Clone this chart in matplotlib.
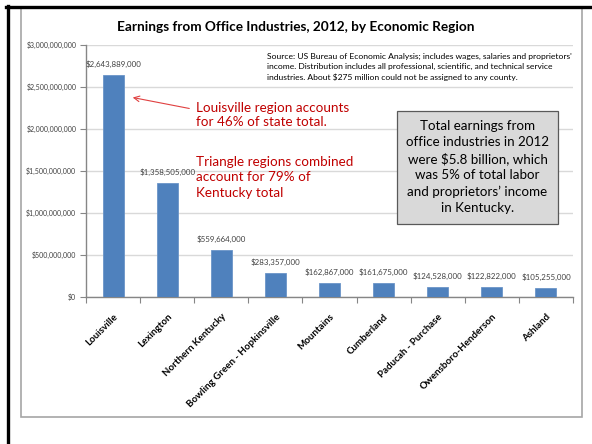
import numpy as np
import matplotlib
matplotlib.use("Agg")
import matplotlib.pyplot as plt
from matplotlib.lines import Line2D
from matplotlib.patches import Rectangle
from matplotlib.ticker import FuncFormatter, MultipleLocator, FixedLocator

plt.rcParams['font.family'] = ['Lato', 'DejaVu Sans']

# Datos
regions = ['Louisville', 'Lexington', 'Northern Kentucky',
           'Bowling Green - Hopkinsville', 'Mountains', 'Cumberland',
           'Paducah - Purchase', 'Owensboro-Henderson', 'Ashland']
earnings = [2643889000, 1358505000, 559664000, 283357000, 162867000,
            161675000, 124528000, 122822000, 105255000]

title = 'Earnings from Office Industries, 2012, by Economic Region'
source_note = ("Source: US Bureau of Economic Analysis; includes wages, salaries and proprietors'\n"
               "income. Distribution includes all professional, scientific, and technical service\n"
               "industries. About $275 million could not be assigned to any county.")
note_louisville = 'Louisville region accounts\nfor 46% of state total.'
note_triangle = 'Triangle regions combined\naccount for 79% of\nKentucky total'
note_box = ('Total earnings from\noffice industries in 2012\nwere $5.8 billion, which\n'
            'was 5% of total labor\nand proprietors\u2019 income\nin Kentucky.')

W, H = 592, 444
fig = plt.figure(figsize=(W / 100, H / 100), dpi=100)

def fx(px):
    return px / W

def fy(py):
    return 1 - py / H

# Marcos exteriores
fig.add_artist(Rectangle((fx(21), fy(417)), fx(582) - fx(21), fy(8) - fy(417),
                         transform=fig.transFigure, fill=False,
                         edgecolor='#a6a6a6', linewidth=1.2))
fig.add_artist(Line2D([fx(6), 1], [fy(7), fy(7)], color='black', linewidth=2.4))
fig.add_artist(Line2D([fx(7.5), fx(7.5)], [0, fy(6)], color='black', linewidth=2.4))

ax = fig.add_axes([fx(86), fy(297), fx(573) - fx(86), fy(45) - fy(297)])

x = np.arange(len(regions))
ax.bar(x, earnings, width=0.39, color='#4f81bd', edgecolor='#6b95c8',
       linewidth=0.6, zorder=3)

for xi, v in zip(x, earnings):
    ax.annotate('${:,.0f}'.format(v), (xi, v), xytext=(0, 5),
                textcoords='offset points', ha='center', va='bottom',
                fontsize=5.7, color='#404040')

ax.set_xlim(-0.5, len(regions) - 0.5)
ax.set_ylim(0, 3000000000)
ax.yaxis.set_major_locator(MultipleLocator(500000000))
ax.yaxis.set_major_formatter(FuncFormatter(lambda v, p: '${:,.0f}'.format(v)))
ax.grid(axis='y', color='#d9d9d9', linewidth=1, zorder=0)

ax.set_xticks(x)
ax.set_xticklabels(regions, rotation=45, ha='right', va='top',
                   rotation_mode='anchor', fontsize=7, fontweight='bold')
ax.tick_params(axis='x', which='major', length=0, pad=11)
ax.xaxis.set_minor_locator(FixedLocator(np.arange(-0.5, len(regions), 1)))
ax.tick_params(axis='x', which='minor', length=4, color='#868686', width=0.8)
ax.tick_params(axis='y', length=4, color='#868686', width=0.8, labelsize=5,
               labelcolor='#404040', pad=3)

for s in ['top', 'right']:
    ax.spines[s].set_visible(False)
for s in ['left', 'bottom']:
    ax.spines[s].set_color('#868686')
    ax.spines[s].set_linewidth(1)

fig.text(0.5, fy(27), title, ha='center', va='center', fontsize=9.8,
         fontweight='bold', color='black')
fig.text(fx(267), fy(67), source_note, ha='left', va='center', fontsize=6.1,
         linespacing=1.55, color='black')

red = '#c00000'
fig.text(fx(196), fy(115), note_louisville, ha='left', va='center', fontsize=9.7,
         color=red, linespacing=1.3)
fig.text(fx(196), fy(177), note_triangle, ha='left', va='center', fontsize=9.7,
         color=red, linespacing=1.35)

fig.add_artist(plt.Annotation('', xy=(fx(130), fy(97)), xytext=(fx(192), fy(109)),
                              xycoords='figure fraction', textcoords='figure fraction',
                              arrowprops=dict(arrowstyle='->', color='#e04040', lw=0.8)))

# Caja gris
fig.add_artist(Rectangle((fx(397), fy(224)), fx(558) - fx(397), fy(111) - fy(224),
                         transform=fig.transFigure, facecolor='#d9d9d9',
                         edgecolor='#595959', linewidth=0.9))
fig.text(fx(477.5), fy(167), note_box, ha='center', va='center', fontsize=9.6,
         color='black', linespacing=1.42)

fig.savefig('out.png', dpi=100)
